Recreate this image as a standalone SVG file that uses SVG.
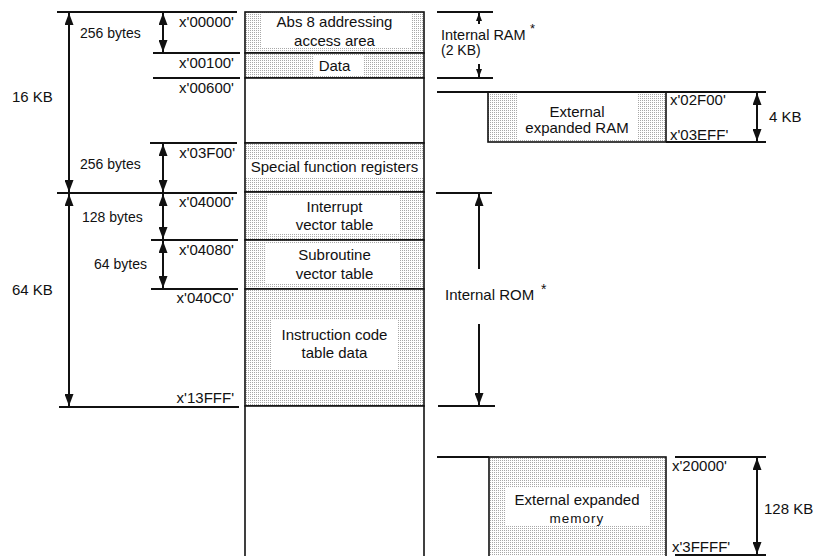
<svg xmlns="http://www.w3.org/2000/svg" width="822" height="556" viewBox="0 0 822 556">
<style>
text{font-family:"Liberation Sans",Arial,sans-serif;font-size:15px;fill:#111}
.sm{font-size:14px}
.c{text-anchor:middle}
.e{text-anchor:end}
.ln{stroke:#111;stroke-width:2;fill:none}
.bx{stroke:#111;stroke-width:1.6}
.sh{fill:url(#dots)}
.wh{fill:#fff}
.ar{stroke:#111;stroke-width:2;fill:none;marker-start:url(#ah);marker-end:url(#ah)}
</style>
<defs>
<pattern id="dots" width="2" height="2" patternUnits="userSpaceOnUse">
<rect width="2" height="2" fill="#fff"/>
<rect width="1" height="1" fill="#a8a8a8"/>
</pattern>
<marker id="ah" markerUnits="userSpaceOnUse" markerWidth="12" markerHeight="9" refX="12" refY="4.5" orient="auto-start-reverse" viewBox="0 0 12 9">
<path d="M0,0 L12,4.5 L0,9 z" fill="#111"/>
</marker>
<marker id="as" markerUnits="userSpaceOnUse" markerWidth="8" markerHeight="6" refX="8" refY="3" orient="auto-start-reverse" viewBox="0 0 8 6">
<path d="M0,0 L8,3 L0,6 z" fill="#111"/>
</marker>
</defs>
<rect width="822" height="556" fill="#fff"/>

<!-- main memory column -->
<g id="col-abs8">
<rect x="245" y="12" width="179" height="41" class="sh bx"/>
<rect x="262" y="14" width="150" height="33" class="wh"/>
<text x="334.5" y="27" class="c">Abs 8 addressing</text>
<text x="334.5" y="46" class="c">access area</text>
</g>
<g id="col-data">
<rect x="245" y="53" width="179" height="25" class="sh bx"/>
<rect x="313" y="55" width="50" height="21" class="wh"/>
<text x="334.5" y="71" class="c">Data</text>
</g>
<g id="col-empty1">
<rect x="245" y="78" width="179" height="65" class="wh bx"/>
</g>
<g id="col-sfr">
<rect x="245" y="143" width="179" height="49" class="sh bx"/>
<rect x="246" y="159" width="177" height="19" class="wh"/>
<text x="334.5" y="172" class="c">Special function registers</text>
</g>
<g id="col-ivt">
<rect x="245" y="192" width="179" height="48" class="sh bx"/>
<rect x="268" y="196" width="132" height="38" class="wh"/>
<text x="334.5" y="212" class="c">Interrupt</text>
<text x="334.5" y="230" class="c">vector table</text>
</g>
<g id="col-svt">
<rect x="245" y="240" width="179" height="49" class="sh bx"/>
<rect x="266" y="244" width="134" height="40" class="wh"/>
<text x="334.5" y="260" class="c">Subroutine</text>
<text x="334.5" y="279" class="c">vector table</text>
</g>
<g id="col-icd">
<rect x="245" y="289" width="179" height="117" class="sh bx"/>
<rect x="272" y="320" width="125" height="50" class="wh"/>
<text x="334.5" y="340" class="c">Instruction code</text>
<text x="334.5" y="358" class="c">table data</text>
</g>
<g id="col-empty2">
<rect x="245" y="406" width="179" height="160" class="wh bx"/>
</g>

<!-- external expanded RAM -->
<g id="ext-ram">
<rect x="488" y="92" width="178" height="50" class="sh bx"/>
<rect x="517" y="94" width="120" height="46" class="wh"/>
<text x="577" y="117" class="c">External</text>
<text x="577" y="133" class="c">expanded RAM</text>
</g>
<!-- external expanded memory -->
<g id="ext-mem">
<rect x="489" y="457" width="177" height="110" class="sh bx"/>
<rect x="505" y="488" width="145" height="37" class="wh"/>
<text x="577" y="505" class="c">External expanded</text>
<text x="577" y="523" class="c" style="font-size:13.5px;letter-spacing:1px">memory</text>
</g>

<!-- connectors / dimension lines -->
<g id="connectors">
<line x1="57" y1="12" x2="237" y2="12" class="ln"/>
<line x1="153" y1="53" x2="240" y2="53" class="ln"/>
<line x1="153" y1="78" x2="240" y2="78" class="ln"/>
<line x1="150" y1="143" x2="237" y2="143" class="ln"/>
<line x1="57" y1="193" x2="237" y2="193" class="ln"/>
<line x1="151" y1="240" x2="238" y2="240" class="ln"/>
<line x1="151" y1="289" x2="238" y2="289" class="ln"/>
<line x1="59" y1="407" x2="239" y2="407" class="ln"/>

<line x1="69" y1="13" x2="69" y2="192" class="ar"/>
<line x1="69" y1="194" x2="69" y2="406" class="ar"/>
<line x1="163" y1="13" x2="163" y2="52" class="ar"/>
<line x1="163" y1="144" x2="163" y2="192" class="ar"/>
<line x1="163" y1="194" x2="163" y2="239" class="ar"/>
<line x1="163" y1="241" x2="163" y2="288" class="ar"/>

<line x1="437" y1="12" x2="493" y2="12" class="ln"/>
<line x1="437" y1="78" x2="493" y2="78" class="ln"/>
<line x1="479" y1="13" x2="479" y2="24" class="ln" marker-start="url(#as)"/>
<line x1="479" y1="64" x2="479" y2="77" class="ln" marker-end="url(#as)"/>

<line x1="437" y1="92" x2="766" y2="92" class="ln"/>
<line x1="666" y1="142" x2="766" y2="142" class="ln"/>
<line x1="757" y1="93" x2="757" y2="141" class="ar"/>

<line x1="436" y1="193" x2="492" y2="193" class="ln"/>
<line x1="438" y1="406" x2="495" y2="406" class="ln"/>
<line x1="479" y1="194" x2="479" y2="269" class="ln" marker-start="url(#ah)"/>
<line x1="479" y1="324" x2="479" y2="405" class="ln" marker-end="url(#ah)"/>

<line x1="437" y1="457" x2="489" y2="457" class="ln"/>
<line x1="675" y1="457" x2="766" y2="457" class="ln"/>
<line x1="675" y1="555" x2="766" y2="555" class="ln"/>
<line x1="757" y1="458" x2="757" y2="554" class="ar"/>
</g>

<!-- labels -->
<g id="labels">
<text x="12" y="102">16 KB</text>
<text x="12" y="295">64 KB</text>
<text x="80" y="38" class="sm">256 bytes</text>
<text x="80" y="169" class="sm">256 bytes</text>
<text x="82" y="222" class="sm">128 bytes</text>
<text x="94" y="269" class="sm">64 bytes</text>

<text x="234" y="27" class="e">x'00000'</text>
<text x="234" y="68" class="e">x'00100'</text>
<text x="234" y="93" class="e">x'00600'</text>
<text x="235" y="158" class="e">x'03F00'</text>
<text x="234" y="207" class="e">x'04000'</text>
<text x="234" y="255" class="e">x'04080'</text>
<text x="234" y="303" class="e">x'040C0'</text>
<text x="234" y="403" class="e">x'13FFF'</text>

<text x="441" y="40" style="font-size:14.5px">Internal RAM</text>
<text x="530" y="33" style="font-size:13px">*</text>
<text x="441" y="55" style="font-size:14px">(2 KB)</text>

<text x="670" y="105">x'02F00'</text>
<text x="670" y="140">x'03EFF'</text>
<text x="769" y="122">4 KB</text>

<text x="445" y="300">Internal ROM</text>
<text x="541" y="294" style="font-size:14px">*</text>

<text x="672" y="471">x'20000'</text>
<text x="672" y="552">x'3FFFF'</text>
<text x="764" y="514">128 KB</text>
</g>
</svg>
